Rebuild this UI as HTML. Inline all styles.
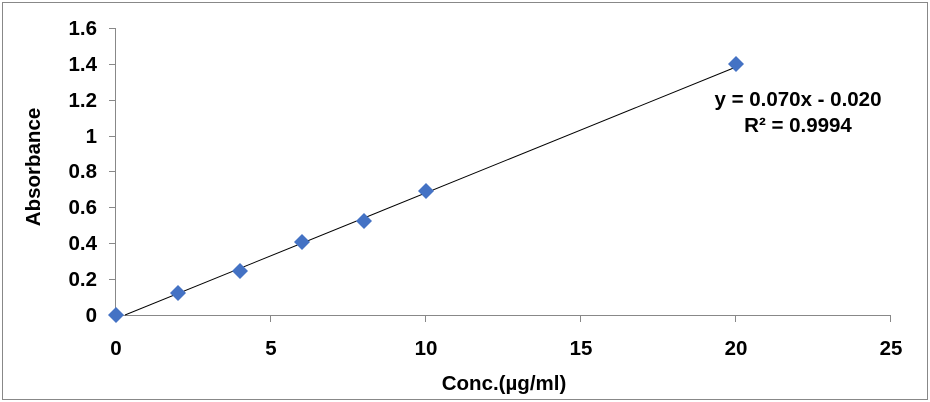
<!DOCTYPE html><html><head><style>body{margin:0;background:#fff}svg{display:block}text{font-family:"Liberation Sans",Arial,sans-serif;font-weight:bold;fill:#000}</style></head><body>
<svg width="930" height="402" viewBox="0 0 930 402">
<rect x="2.5" y="2.5" width="925" height="397" fill="#fff" stroke="#888" stroke-width="1"/>
<g stroke="#888" stroke-width="1" fill="none">
<path d="M115.5 28V315.5H891"/>
<path d="M109 28.5h6M109 64.5h6M109 100.5h6M109 136.5h6M109 171.5h6M109 207.5h6M109 243.5h6M109 279.5h6M109 315.5h6"/>
<path d="M115.5 315v7M270.5 315v7M425.5 315v7M580.5 315v7M735.5 315v7M890.5 315v7"/>
</g>
<g font-size="20.5" text-anchor="end">
<text x="97" y="35">1.6</text><text x="97" y="71">1.4</text><text x="97" y="107">1.2</text><text x="97" y="143">1</text><text x="97" y="178">0.8</text><text x="97" y="214">0.6</text><text x="97" y="250">0.4</text><text x="97" y="286">0.2</text><text x="97" y="322">0</text>
</g>
<g font-size="20.5" text-anchor="middle">
<text x="116" y="355">0</text><text x="271" y="355">5</text><text x="426" y="355">10</text><text x="581" y="355">15</text><text x="736" y="355">20</text><text x="891" y="355">25</text>
<text x="504" y="390">Conc.(µg/ml)</text>
<text transform="translate(40 167) rotate(-90)">Absorbance</text>
<text x="798" y="106">y = 0.070x - 0.020</text>
<text x="798" y="132">R² = 0.9994</text>
</g>
<line x1="125" y1="315" x2="736" y2="67" stroke="#000" stroke-width="1"/>
<g fill="#4472C4">
<path d="M116 307l8 8-8 8-8-8z"/><path d="M178 285l8 8-8 8-8-8z"/><path d="M240 263l8 8-8 8-8-8z"/><path d="M302 234l8 8-8 8-8-8z"/><path d="M364 213l8 8-8 8-8-8z"/><path d="M426 183l8 8-8 8-8-8z"/><path d="M736 56l8 8-8 8-8-8z"/>
</g>
</svg></body></html>
